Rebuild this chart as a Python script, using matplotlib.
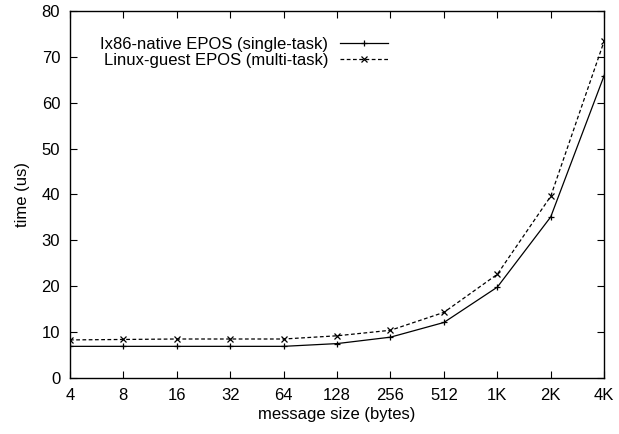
import matplotlib
matplotlib.use("Agg")
import matplotlib.pyplot as plt

plt.rcParams['font.family'] = ['Liberation Sans', 'DejaVu Sans']

sizes = ["4", "8", "16", "32", "64", "128", "256", "512", "1K", "2K", "4K"]
native = [6.9, 6.9, 6.9, 6.9, 6.9, 7.5, 8.9, 12.1, 19.8, 35.1, 65.9]
guest = [8.3, 8.4, 8.5, 8.5, 8.5, 9.2, 10.4, 14.3, 22.6, 39.6, 73.4]

fig = plt.figure(figsize=(6.19, 4.34), dpi=100)
ax = fig.add_axes([0.113, 0.129, 0.863, 0.846])

x = range(len(sizes))
ax.plot(x, native, color='black', lw=0.9, marker='+', ms=5, mew=0.9,
        label='Ix86-native EPOS (single-task)')
ax.plot(x, guest, color='black', lw=0.9, ls=(0, (3, 2)), marker='x', ms=4, mew=0.9,
        label='Linux-guest EPOS (multi-task)')

ax.set_xlim(0, len(sizes) - 1)
ax.set_ylim(0, 80)
ax.set_xticks(list(x))
ax.set_xticklabels(sizes)
ax.set_yticks(range(0, 81, 10))
ax.tick_params(direction='in', top=True, right=True, labelsize=12, length=5, pad=7)
for s in ax.spines.values():
    s.set_linewidth(1.0)

ax.set_xlabel('message size (bytes)', fontsize=12, labelpad=3)
ax.set_ylabel('time (us)', fontsize=12, labelpad=8)

leg = ax.legend(loc='upper right', bbox_to_anchor=(0.596, 0.928), frameon=False,
                markerfirst=False, fontsize=12, handlelength=2.9, handletextpad=0.7,
                labelspacing=0.05, borderaxespad=0, borderpad=0)
# right-align legend texts like gnuplot
for t in leg.get_texts():
    t.set_ha('right')
leg._legend_box.align = 'right'

fig.savefig('out.png', dpi=100)
